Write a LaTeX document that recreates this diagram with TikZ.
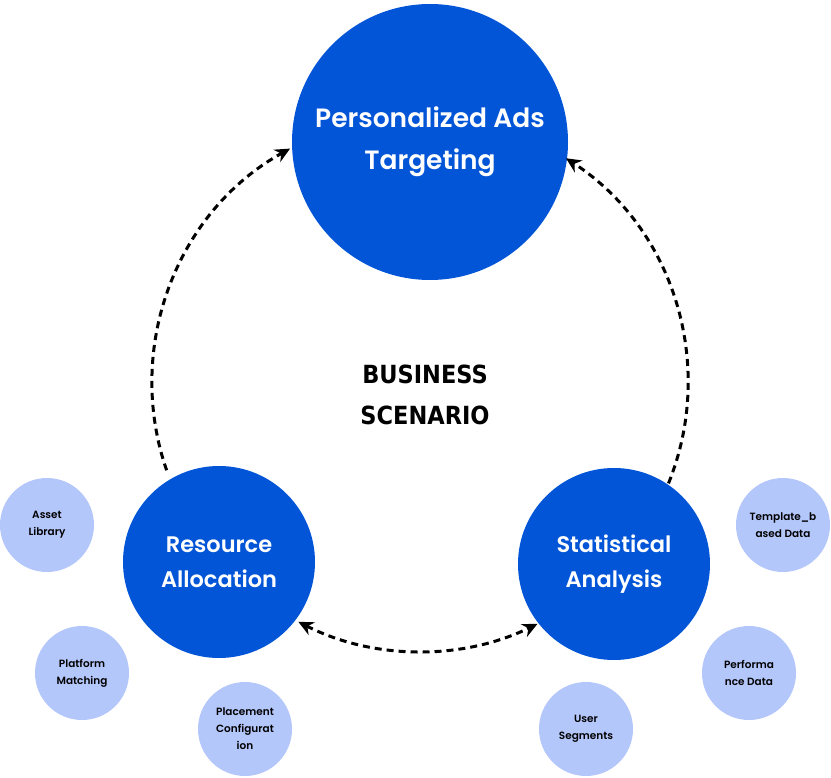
\documentclass[tikz,border=0pt]{standalone}
\usepackage{fontspec}
\setmainfont{Poppins}[BoldFont={Poppins SemiBold}]
\newfontfamily\condfont{DejaVu Sans Condensed}[BoldFont={DejaVu Sans Condensed Bold}]
\usetikzlibrary{arrows.meta}
\definecolor{adblue}{HTML}{0355D7}
\definecolor{adpale}{HTML}{B4C7FB}
\begin{document}
\begin{tikzpicture}
  [x=1pt,y=1pt,
   big/.style={circle,fill=adblue,text=white,align=center,inner sep=0pt},
   sat/.style={circle,fill=adpale,minimum size=94pt,inner sep=0pt,align=center,
     font=\bfseries\fontsize{10.5}{17}\selectfont},
   link/.style={line width=3pt,dash pattern=on 7pt off 5pt,
     -{Stealth[length=15pt,width=14pt]}}]
  \useasboundingbox (0,0) rectangle (831,-778);
  \coordinate (ring) at (420,-383);

  \node[big,minimum size=276pt,font=\bfseries\fontsize{26.5}{42}\selectfont] (ads) at (430,-142) {Personalized Ads\\Targeting};
  \node[big,minimum size=192pt,font=\bfseries\fontsize{22.5}{35}\selectfont] (res) at (219,-562) {Resource\\Allocation};
  \node[big,minimum size=192pt,font=\bfseries\fontsize{22.5}{35}\selectfont] (stat) at (614,-564) {Statistical\\Analysis};
  \node[align=center,font=\condfont\bfseries\fontsize{25}{41}\selectfont] (scen) at (425,-395) {BUSINESS\\SCENARIO};

  \node[sat] (asset) at (47,-525) {Asset\\Library};
  \node[sat] (platf) at (82,-673) {Platform\\Matching};
  \node[sat] (place) at (245,-729) {Placement\\Configurat\\ion};
  \node[sat] (user) at (586,-729) {User\\Segments};
  \node[sat] (perf) at (749,-673) {Performa\\nce Data};
  \node[sat] (templ) at (783,-525) {Template\_b\\ased Data};

  \foreach \from/\to in {199/119, -22/57}
    \draw[link] ([shift={(\from:268pt)}]ring) arc[start angle=\from,end angle=\to,radius=268pt];
  \draw[link,{Stealth[length=15pt,width=14pt]}-{Stealth[length=15pt,width=14pt]}]
    ([shift={(243:268pt)}]ring) arc[start angle=243,end angle=296,radius=268pt];
\end{tikzpicture}
\end{document}
